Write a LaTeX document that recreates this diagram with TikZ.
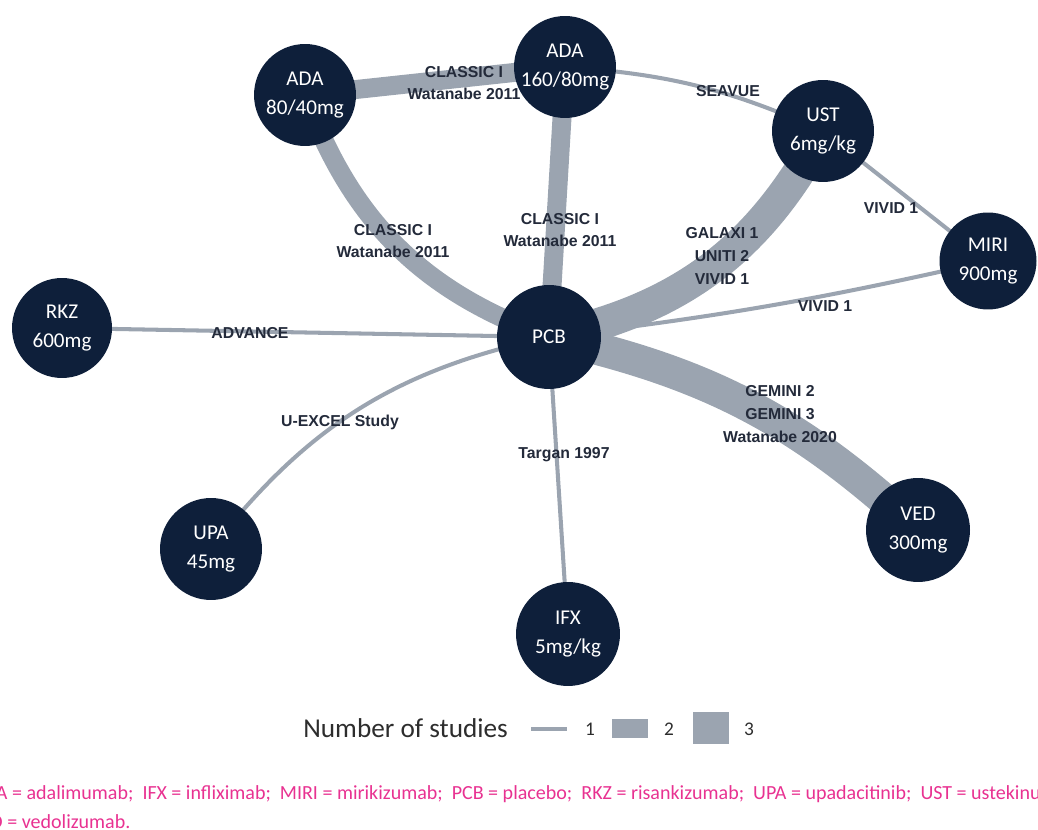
\documentclass[tikz,border=0pt]{standalone}
\usepackage{fontspec}
\setmainfont{Carlito}
\newfontfamily\labfont{Liberation Sans}
\usetikzlibrary{calc}
\definecolor{navy}{RGB}{14,31,58}
\definecolor{edgegray}{RGB}{155,164,176}
\definecolor{labcol}{RGB}{35,42,58}
\definecolor{legcol}{RGB}{45,45,45}
\definecolor{pinkc}{RGB}{232,50,145}
\pgfdeclarelayer{edges}
\pgfdeclarelayer{labels}
\pgfsetlayers{edges,labels,main}
\begin{document}
\begin{tikzpicture}[x=0.02cm,y=-0.02cm,
 drug/.style={circle, fill=navy, text=white, minimum size=2.04cm, inner sep=0pt, align=center, font=\fontsize{12}{17}\selectfont},
 one/.style={draw=edgegray, line width=2.3pt},
 two/.style={draw=edgegray, line width=10.8pt},
 three/.style={draw=edgegray, line width=18.5pt},
 elab/.style={font=\labfont\bfseries\fontsize{9}{13}\selectfont, text=labcol, align=center, inner sep=0pt},
 legtext/.style={text=legcol, inner sep=0pt},
 pinktext/.style={text=pinkc, inner sep=0pt, anchor=base west, font=\fontsize{11.4}{13}\selectfont},
]
\useasboundingbox (0,0) rectangle (1038,830);

% nodes
\node[drug] (ada80) at (305,95) {ADA\\80/40mg};
\node[drug] (ada160) at (565,67) {ADA\\160/80mg};
\node[drug] (ust) at (823,131) {UST\\6mg/kg};
\node[drug, minimum size=1.94cm] (miri) at (988,261) {MIRI\\900mg};
\node[drug, minimum size=2cm] (rkz) at (62,328) {RKZ\\600mg};
\node[drug, minimum size=2.08cm] (pcb) at (549,337) {PCB};
\node[drug] (upa) at (211,549) {UPA\\45mg};
\node[drug, minimum size=2.08cm] (ifx) at (568,634) {IFX\\5mg/kg};
\node[drug, minimum size=2.08cm] (ved) at (918,530) {VED\\300mg};

% edges
\begin{pgfonlayer}{edges}
\draw[two] (ada80.center) -- (ada160.center);
\draw[two] (ada80.center) to[bend right=25] (pcb.center);
\draw[two] (ada160.center) -- (pcb.center);
\draw[one] (ada160.center) to[bend left=10] (ust.center);
\draw[three] (ust.center) to[bend left=25] (pcb.center);
\draw[one] (ust.center) -- (miri.center);
\draw[one] (miri.center) to[bend left=3] (pcb.center);
\draw[one] (rkz.center) -- (pcb.center);
\draw[one] (upa.center) to[bend left=20] (pcb.center);
\draw[one] (ifx.center) -- (pcb.center);
\draw[three] (pcb.center) to[bend left=15] (ved.center);
\end{pgfonlayer}

% edge labels
\begin{pgfonlayer}{labels}
\node[elab] (l1) at (464,83) {CLASSIC I\\Watanabe 2011};
\node[elab] (l2) at (393,241) {CLASSIC I\\Watanabe 2011};
\node[elab] (l3) at (560,230) {CLASSIC I\\Watanabe 2011};
\node[elab] (l4) at (728,91) {SEAVUE};
\node[elab] (l5) at (722,256) {GALAXI 1\\UNITI 2\\VIVID 1};
\node[elab] (l6) at (891,208) {VIVID 1};
\node[elab] (l7) at (825,306) {VIVID 1};
\node[elab] (l8) at (250,333) {ADVANCE};
\node[elab] (l9) at (340,422) {U-EXCEL Study};
\node[elab] (l10) at (564,455) {Targan 1997};
\node[elab] (l11) at (780,414) {GEMINI 2\\GEMINI 3\\Watanabe 2020};
\end{pgfonlayer}

% legend
\node[legtext, anchor=west, font=\fontsize{15.5}{18}\selectfont] (legt) at (303,728) {Number of studies};
\coordinate (la) at (531,729);
\coordinate (lb) at (567,729);
\draw[one] (la) -- (lb);
\node[legtext, font=\fontsize{11}{13}\selectfont] (k1) at (590,729) {1};
\node[fill=edgegray, minimum width=0.72cm, minimum height=0.38cm, inner sep=0pt] (r2) at (630,728.5) {};
\node[legtext, font=\fontsize{11}{13}\selectfont] (k2) at (669,729) {2};
\node[fill=edgegray, minimum width=0.72cm, minimum height=0.64cm, inner sep=0pt] (r3) at (711,728) {};
\node[legtext, font=\fontsize{11}{13}\selectfont] (k3) at (749,729) {3};

% footnote (cropped at the edges, as in the reference)
\begin{scope}
\clip (0,0) rectangle (1038,830);
\node[pinktext] (f1) at (-28,799) {ADA = adalimumab;\ \ IFX = infliximab;\ \ MIRI = mirikizumab;\ \ PCB = placebo;\ \ RKZ = risankizumab;\ \ UPA = upadacitinib;\ \ UST = ustekinumab;};
\node[pinktext] (f2) at (-31,828) {VED = vedolizumab.};
\end{scope}
\end{tikzpicture}
\end{document}
